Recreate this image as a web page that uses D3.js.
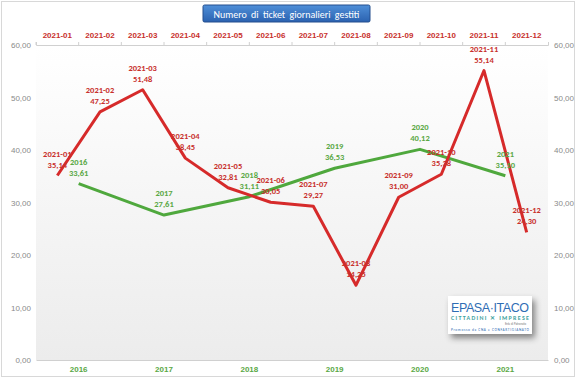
<!DOCTYPE html>
<html>
<head>
<meta charset="utf-8">
<script src="https://cdn.jsdelivr.net/npm/d3@7"></script>
<style>
  body { margin: 0; background: #fff; }
  svg { font-family: Calibri, Carlito, "Open Sans", Arial, sans-serif; }
</style>
</head>
<body>
<svg id="chart" width="576" height="378"></svg>
<script>
const months = ["2021-01","2021-02","2021-03","2021-04","2021-05","2021-06","2021-07","2021-08","2021-09","2021-10","2021-11","2021-12"];
const monthValues = [35.14, 47.25, 51.48, 38.45, 32.81, 30.05, 29.27, 14.25, 31.00, 35.38, 55.14, 24.30];
const years = ["2016","2017","2018","2019","2020","2021"];
const yearValues = [33.61, 27.61, 31.11, 36.53, 40.12, 35.10];
const yTicks = [0, 10, 20, 30, 40, 50, 60];

const svg = d3.select("#chart"),
    margin = {top: 45, right: 28, bottom: 18, left: 36},
    width = +svg.attr("width") - margin.left - margin.right,
    height = +svg.attr("height") - margin.top - margin.bottom;

const red = "#d62a2a", green = "#4fa83d";
const fmt = v => d3.format(".2f")(v).replace(".", ",");

const defs = svg.append("defs");
const bg = defs.append("linearGradient").attr("id", "bg").attr("x1", 0).attr("y1", 0).attr("x2", 0).attr("y2", 1);
bg.append("stop").attr("offset", "0%").attr("stop-color", "#ffffff");
bg.append("stop").attr("offset", "100%").attr("stop-color", "#ececec");
const tg = defs.append("linearGradient").attr("id", "tg").attr("x1", 0).attr("y1", 0).attr("x2", 0).attr("y2", 1);
tg.append("stop").attr("offset", "0%").attr("stop-color", "#4f8fd8");
tg.append("stop").attr("offset", "100%").attr("stop-color", "#2b62b0");
const sh = defs.append("filter").attr("id", "sh").attr("x", "-20%").attr("y", "-20%").attr("width", "150%").attr("height", "160%");
sh.append("feDropShadow").attr("dx", 3).attr("dy", 4).attr("stdDeviation", 3).attr("flood-opacity", 0.45);

// outer frame
svg.append("rect").attr("x", 1.5).attr("y", 1.5).attr("width", 573).attr("height", 375)
    .attr("fill", "#fff").attr("stroke", "#d8d8d8");

const g = svg.append("g").attr("transform", `translate(${margin.left},${margin.top})`);

const x = d3.scaleBand().domain(months).range([0, width]);
const xYear = d3.scaleBand().domain(years).range([0, width]);
const y = d3.scaleLinear().domain([0, 60]).range([height, 0]);

g.append("rect").attr("width", width).attr("height", height).attr("fill", "url(#bg)");

// axes
const leftAx = g.append("g").call(d3.axisLeft(y).tickValues(yTicks).tickFormat(fmt).tickSize(0).tickPadding(5));
const rightAx = g.append("g").attr("transform", `translate(${width},0)`)
    .call(d3.axisRight(y).tickValues(yTicks).tickFormat(fmt).tickSize(0).tickPadding(6));
[leftAx, rightAx].forEach(a => {
  a.select(".domain").remove();
  a.selectAll("text").attr("fill", "#8a8a8a").attr("font-size", 8);
});

const topAx = g.append("g").call(d3.axisTop(x).tickSize(3).tickPadding(4));
topAx.select(".domain").attr("stroke", "#d0d0d0");
topAx.selectAll(".tick line").attr("stroke", "#d0d0d0").attr("transform", `translate(${-x.bandwidth()/2},0)`);
topAx.selectAll("text").attr("fill", "#c8302c").attr("font-size", 8).attr("font-weight", "bold");

const bottomAx = g.append("g").attr("transform", `translate(0,${height})`)
    .call(d3.axisBottom(xYear).tickSize(0).tickPadding(6));
bottomAx.select(".domain").attr("stroke", "#d0d0d0");
bottomAx.selectAll("text").attr("fill", "#5aa845").attr("font-size", 8).attr("font-weight", "bold");

// lines
const monthPts = months.map((m, i) => ({k: m, v: monthValues[i], x: x(m) + x.bandwidth()/2}));
const yearPts = years.map((yr, i) => ({k: yr, v: yearValues[i], x: xYear(yr) + xYear.bandwidth()/2}));
const line = d3.line().x(d => d.x).y(d => y(d.v));

g.append("path").datum(yearPts).attr("d", line).attr("fill", "none")
    .attr("stroke", green).attr("stroke-width", 3).attr("stroke-linejoin", "round");
g.append("path").datum(monthPts).attr("d", line).attr("fill", "none")
    .attr("stroke", red).attr("stroke-width", 3).attr("stroke-linejoin", "round");

function labels(pts, color) {
  const lab = g.append("g").selectAll("text").data(pts).join("text")
      .attr("text-anchor", "middle").attr("fill", color)
      .attr("font-size", 8.5).attr("font-weight", "bold");
  lab.append("tspan").attr("x", d => d.x).attr("y", d => y(d.v) - 19).text(d => d.k);
  lab.append("tspan").attr("x", d => d.x).attr("y", d => y(d.v) - 8).text(d => fmt(d.v));
}
labels(yearPts, "#5aa845");
labels(monthPts, "#c8302c");

// title box
const title = svg.append("g").attr("transform", "translate(203,5)");
title.append("rect").attr("width", 167).attr("height", 17).attr("rx", 1.5)
    .attr("fill", "url(#tg)").attr("stroke", "#244f8e");
title.append("text").attr("x", 83.5).attr("y", 12.5).attr("text-anchor", "middle")
    .attr("fill", "#fff").attr("font-size", 10).attr("word-spacing", 2)
    .text("Numero di ticket giornalieri gestiti");

// logo
const logo = svg.append("g").attr("transform", "translate(448,296)");
logo.append("rect").attr("width", 84).attr("height", 38).attr("fill", "#fff").attr("filter", "url(#sh)");
logo.append("text").attr("x", 42).attr("y", 16).attr("text-anchor", "middle")
    .attr("fill", "#2f6db4").attr("font-size", 12.5).attr("font-family", "Liberation Sans, Arial, sans-serif")
    .attr("textLength", 78).text("EPASA·ITACO");
logo.append("text").attr("x", 42).attr("y", 24).attr("text-anchor", "middle")
    .attr("fill", "#3fa3a0").attr("font-size", 6).attr("font-weight", "bold")
    .attr("textLength", 78).text("CITTADINI ✕ IMPRESE");
logo.append("text").attr("x", 78).attr("y", 29).attr("text-anchor", "end")
    .attr("fill", "#777").attr("font-size", 3).text("Ente di Patronato");
logo.append("text").attr("x", 42).attr("y", 35).attr("text-anchor", "middle")
    .attr("fill", "#2f6db4").attr("font-size", 3.6).attr("textLength", 78)
    .text("Promosso da CNA e CONFARTIGIANATO");
</script>
</body>
</html>
